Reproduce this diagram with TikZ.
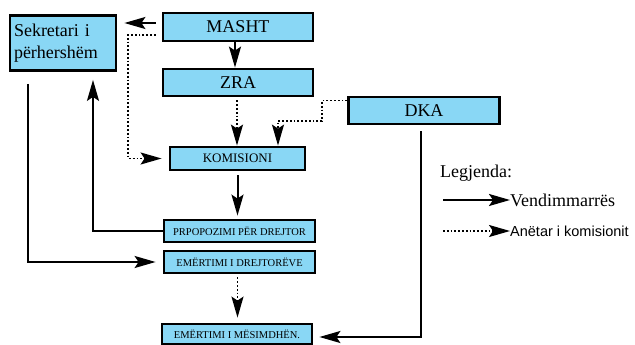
\documentclass[tikz,border=0pt]{standalone}
\usepackage{fontspec}
\setmainfont{Liberation Serif}
\newfontfamily\legsans{Liberation Sans}
\usetikzlibrary{arrows.meta}
\definecolor{boxblue}{RGB}{137,215,245}
\tikzset{
  bx/.style={draw, line width=2.8pt, fill=boxblue, rectangle, inner sep=0pt},
  dec/.style={line width=2pt, -{Stealth[length=21pt,width=12pt,inset=4pt]}},
  mem/.style={line width=1.8pt, dash pattern=on 1.8pt off 2pt, -{Stealth[length=21pt,width=12pt,inset=4pt]}}
}
\begin{document}
\begin{tikzpicture}[x=1pt, y=-1pt]
    \useasboundingbox (0,0) rectangle (635,345);
    % boxes
    \node[bx, minimum width=106pt, minimum height=55pt, text width=98pt, align=left, font=\fontsize{18}{22}\selectfont] (sek) at (63,43) {Sekretari i\\përhershëm};
    \node[bx, minimum width=150pt, minimum height=28pt, font=\fontsize{18}{20}\selectfont] (masht) at (238,27) {MASHT};
    \node[bx, minimum width=150pt, minimum height=27pt, font=\fontsize{18}{20}\selectfont] (zra) at (238,82.5) {ZRA};
    \node[bx, minimum width=151pt, minimum height=27pt, font=\fontsize{18}{20}\selectfont] (dka) at (424,110.5) {DKA};
    \node[bx, minimum width=135pt, minimum height=23pt, font=\fontsize{13}{15}\selectfont] (kom) at (237.5,158.5) {KOMISIONI};
    \node[bx, minimum width=151pt, minimum height=22pt, font=\fontsize{10.5}{12}\selectfont] (prop) at (239.5,231) {PRPOPOZIMI PËR DREJTOR};
    \node[bx, minimum width=151pt, minimum height=22pt, font=\fontsize{10.5}{12}\selectfont] (emd) at (239.5,262) {EMËRTIMI I DREJTORËVE};
    \node[bx, minimum width=150pt, minimum height=20pt, font=\fontsize{10.5}{12}\selectfont] (ems) at (237,334) {EMËRTIMI I MËSIMDHËN.};

    \coordinate (c1) at (128,158.5);
    \coordinate (c2) at (322,121);
    \coordinate (c3) at (278,121);

    % connectors
    \draw[dec, shorten <=6pt, shorten >=7pt] ([yshift=4pt]masht.west) -- ([yshift=4pt]masht.west -| sek.east);
    \draw[mem, shorten <=6pt, shorten >=7pt] ([yshift=-8pt]masht.west) -| (c1) -- (kom.west);
    \draw[dec] ([xshift=-3pt]masht.south) -- ([xshift=-3pt]zra.north);
    \draw[mem, shorten <=3pt] ([xshift=-1pt]zra.south) -- ([xshift=-1pt]zra.south |- kom.north);
    \draw[mem] ([yshift=10pt]dka.west) -| (c2) -- (c3) -- (c3 |- kom.north);
    \draw[dec, shorten <=4pt, shorten >=3pt] (kom.south) -- (kom.south |- prop.north);
    \draw[dec, shorten >=8pt] (prop.west) -| ([xshift=30pt]sek.south);
    \draw[dec, shorten <=12pt, shorten >=7pt] ([xshift=-35pt]sek.south) |- (emd.west);
    \draw[mem, shorten <=3pt, shorten >=5pt] ([xshift=-2pt]emd.south) -- ([xshift=-2pt]emd.south |- ems.north);
    \draw[dec, shorten <=6pt, shorten >=6pt] ([xshift=-3pt]dka.south) |- ([yshift=-3pt]ems.east);

    % legend
    \node[anchor=west, inner sep=0pt, font=\fontsize{18}{20}\selectfont] (leg) at (440,173) {Legjenda:};
    \coordinate (l1) at (443,200);
    \coordinate (l2) at (443,231);
    \node[anchor=west, inner sep=0pt, font=\fontsize{18}{20}\selectfont] (vend) at (510,200) {Vendimmarrës};
    \node[anchor=west, inner sep=0pt, font=\legsans\fontsize{14.5}{16}\selectfont] (anet) at (510,231) {Anëtar i komisionit};
    \draw[dec] (l1) -- (vend.west);
    \draw[mem] (l2) -- (anet.west);
\end{tikzpicture}
\end{document}
